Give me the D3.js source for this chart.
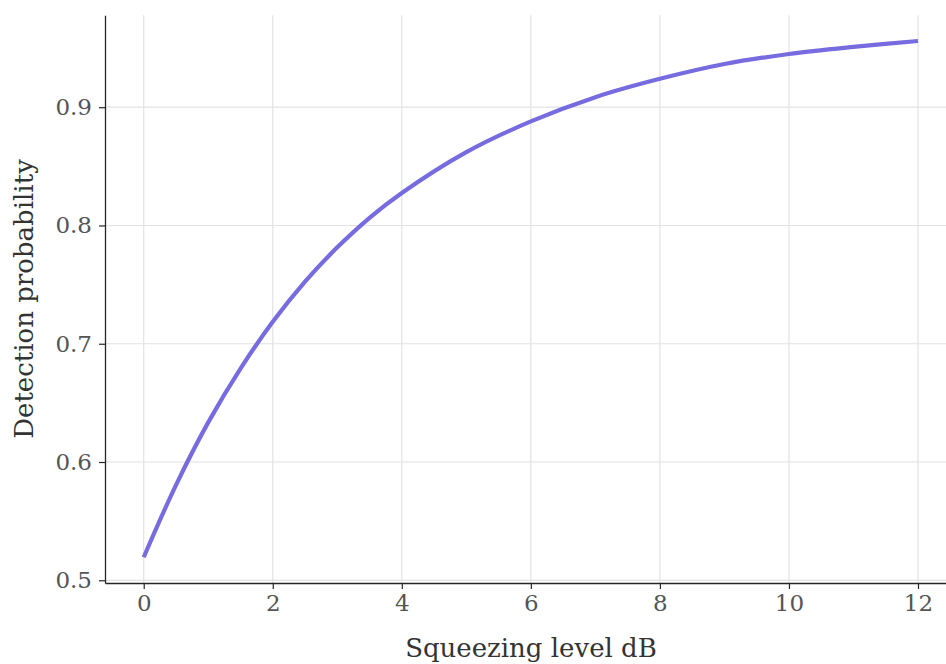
<!DOCTYPE html>
<html>
<head>
<meta charset="utf-8">
<script src="https://cdn.jsdelivr.net/npm/d3@7"></script>
<style>
  body { margin: 0; background: #fff; }
  svg { display: block; }
</style>
</head>
<body>
<script>
// values
const squeezing = [0, 0.5, 1, 1.5, 2, 2.5, 3, 3.5, 4, 5, 6, 7, 8, 9, 10, 11, 12];
const detection = [0.5195, 0.5805, 0.6335, 0.679, 0.7185, 0.7525, 0.7815, 0.8065, 0.8275, 0.862, 0.888, 0.9085, 0.924, 0.9365, 0.945, 0.951, 0.956];
const xTicks = [0, 2, 4, 6, 8, 10, 12];
const yTicks = [0.5, 0.6, 0.7, 0.8, 0.9];

const w = 946;
const h = 664;

const xScale = d3.scaleLinear()
                 .domain([-0.6, 12.6])
                 .range([105, 956.7]);

const yScale = d3.scaleLinear()
                 .domain([0.4977, 0.9778])
                 .range([583, 15.2]);

const svg = d3.select("body")
              .append("svg")
              .attr("width", w)
              .attr("height", h)
              .style("font-family", "'DejaVu Serif', serif");

// grid
svg.append("g")
   .selectAll("line")
   .data(xTicks)
   .enter()
   .append("line")
   .attr("x1", d => xScale(d))
   .attr("x2", d => xScale(d))
   .attr("y1", yScale.range()[1])
   .attr("y2", yScale.range()[0])
   .attr("stroke", "#e2e2e2")
   .attr("stroke-width", 1.2);

svg.append("g")
   .selectAll("line")
   .data(yTicks)
   .enter()
   .append("line")
   .attr("x1", xScale.range()[0])
   .attr("x2", w)
   .attr("y1", d => yScale(d))
   .attr("y2", d => yScale(d))
   .attr("stroke", "#e2e2e2")
   .attr("stroke-width", 1.2);

// the curve
const line = d3.line()
               .x((d, i) => xScale(squeezing[i]))
               .y(d => yScale(d))
               .curve(d3.curveCatmullRom.alpha(0.5));

svg.append("path")
   .datum(detection)
   .attr("d", line)
   .attr("fill", "none")
   .attr("stroke", "#776be0")
   .attr("stroke-width", 4.2);

// axes
const xAxis = d3.axisBottom(xScale).tickValues(xTicks).tickSize(6).tickSizeOuter(0).tickPadding(6).tickFormat(d3.format("d"));
const yAxis = d3.axisLeft(yScale).tickValues(yTicks).tickSize(6).tickSizeOuter(0).tickPadding(7).tickFormat(d3.format(".1f"));

const gx = svg.append("g")
   .attr("transform", "translate(0," + yScale.range()[0] + ")")
   .call(xAxis);

const gy = svg.append("g")
   .attr("transform", "translate(" + xScale.range()[0] + ",0)")
   .call(yAxis);

[gx, gy].forEach(g => {
  g.select(".domain").attr("stroke", "#262626").attr("stroke-width", 1.3);
  g.selectAll(".tick line").attr("stroke", "#262626").attr("stroke-width", 1.2);
  g.selectAll(".tick text")
   .attr("fill", "#555")
   .style("font-size", "23px")
   .style("font-family", "'DejaVu Serif', serif");
});

// axis labels
svg.append("text")
   .attr("x", 531)
   .attr("y", 657)
   .attr("text-anchor", "middle")
   .attr("fill", "#333")
   .style("font-size", "26px")
   .text("Squeezing level dB");

svg.append("text")
   .attr("transform", "translate(33,299) rotate(-90)")
   .attr("text-anchor", "middle")
   .attr("fill", "#333")
   .style("font-size", "26px")
   .text("Detection probability");
</script>
</body>
</html>
